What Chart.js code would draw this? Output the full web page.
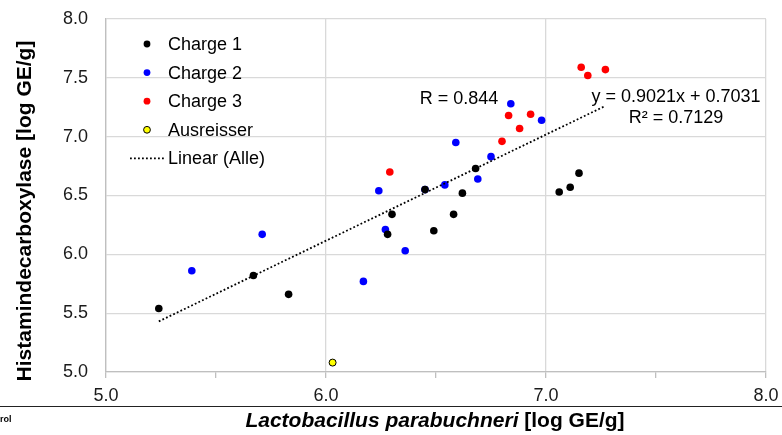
<!DOCTYPE html>
<html>
<head>
<meta charset="utf-8">
<script src="https://cdn.jsdelivr.net/npm/chart.js@4.4.1/dist/chart.umd.min.js"></script>
<style>
  html, body { margin: 0; padding: 0; background: #fff; }
  canvas { display: block; }
</style>
</head>
<body>
<canvas id="scatterChart" width="782" height="435"></canvas>
<script>
// Charge 1
const charge1X = [5.24, 5.67, 5.83, 6.28, 6.30, 6.45, 6.49, 6.58, 6.62, 6.68, 7.06, 7.11, 7.15];
const charge1Y = [5.54, 5.82, 5.66, 6.17, 6.34, 6.55, 6.20, 6.34, 6.52, 6.73, 6.53, 6.57, 6.69];
// Charge 2
const charge2X = [5.39, 5.71, 6.17, 6.24, 6.27, 6.36, 6.45, 6.54, 6.59, 6.69, 6.75, 6.84, 6.98];
const charge2Y = [5.86, 6.17, 5.77, 6.54, 6.21, 6.03, 6.55, 6.59, 6.95, 6.64, 6.83, 7.28, 7.14];
// Charge 3
const charge3X = [6.29, 6.80, 6.83, 6.88, 6.93, 7.16, 7.19, 7.27];
const charge3Y = [6.70, 6.96, 7.18, 7.07, 7.19, 7.59, 7.52, 7.57];
// Ausreisser
const outlierX = [6.03];
const outlierY = [5.08];

// Regression (Alle)
const slope = 0.9021;
const intercept = 0.7031;
const rValue = '0.844';
const r2Value = '0.7129';

const yTicks = [5.0, 5.5, 6.0, 6.5, 7.0, 7.5, 8.0];

const FONT = '"Liberation Sans", Arial, sans-serif';

const pts = (xs, ys) => xs.map((x, i) => ({ x: x, y: ys[i] }));

const allX = charge1X.concat(charge2X, charge3X);
const xMin = Math.min(...allX);
const xMax = Math.max(...allX);
const trend = [xMin, xMax].map(x => ({ x: x, y: slope * x + intercept }));

const decor = {
  id: 'decor',
  afterDraw(chart) {
    const ctx = chart.ctx;
    ctx.save();
    ctx.fillStyle = '#000';

    // legend
    const rows = chart.data.datasets;
    ctx.font = '18px ' + FONT;
    ctx.textBaseline = 'middle';
    ctx.textAlign = 'left';
    rows.forEach((ds, i) => {
      const y = 44 + i * 28.6;
      if (ds.type === 'line') {
        ctx.save();
        ctx.strokeStyle = ds.borderColor;
        ctx.lineWidth = ds.borderWidth;
        ctx.setLineDash(ds.borderDash);
        ctx.beginPath();
        ctx.moveTo(130, y);
        ctx.lineTo(164, y);
        ctx.stroke();
        ctx.restore();
      } else {
        ctx.beginPath();
        ctx.arc(147, y, 3.4, 0, Math.PI * 2);
        ctx.fillStyle = ds.backgroundColor;
        ctx.fill();
        if (ds.borderWidth) {
          ctx.lineWidth = ds.borderWidth;
          ctx.strokeStyle = ds.borderColor;
          ctx.stroke();
        }
      }
      ctx.fillStyle = '#000';
      ctx.fillText(ds.label, 168, y + 1);
    });

    // regression labels
    ctx.textAlign = 'center';
    ctx.fillText('R = ' + rValue, 459, 99);
    ctx.fillText('y = ' + slope + 'x + ' + intercept, 676, 97);
    ctx.fillText('R\u00b2 = ' + r2Value, 676, 118);

    // y axis title
    ctx.save();
    ctx.translate(31, 211);
    ctx.rotate(-Math.PI / 2);
    ctx.font = 'bold 21px ' + FONT;
    ctx.textBaseline = 'alphabetic';
    ctx.textAlign = 'center';
    ctx.fillText('Histamindecarboxylase [log GE/g]', 0, 0);
    ctx.restore();

    // x axis title: species name in italics
    const part1 = 'Lactobacillus parabuchneri';
    const part2 = ' [log GE/g]';
    ctx.textBaseline = 'alphabetic';
    ctx.textAlign = 'left';
    ctx.font = 'italic bold 21px ' + FONT;
    const w1 = ctx.measureText(part1).width;
    ctx.font = 'bold 21px ' + FONT;
    const w2 = ctx.measureText(part2).width;
    const x0 = 435 - (w1 + w2) / 2;
    ctx.font = 'italic bold 21px ' + FONT;
    ctx.fillText(part1, x0, 427);
    ctx.font = 'bold 21px ' + FONT;
    ctx.fillText(part2, x0 + w1, 427);

    // rule across the bottom and leftover label
    ctx.strokeStyle = '#222';
    ctx.lineWidth = 1.2;
    ctx.beginPath();
    ctx.moveTo(0, 406.5);
    ctx.lineTo(782, 406.5);
    ctx.stroke();
    ctx.font = 'bold 9px ' + FONT;
    ctx.fillText('rol', 0, 422);

    ctx.restore();
  }
};

new Chart(document.getElementById('scatterChart'), {
  type: 'scatter',
  data: {
    datasets: [
      { label: 'Charge 1', data: pts(charge1X, charge1Y), backgroundColor: '#000000', borderWidth: 0, pointRadius: 3.8 },
      { label: 'Charge 2', data: pts(charge2X, charge2Y), backgroundColor: '#0000ff', borderWidth: 0, pointRadius: 3.8 },
      { label: 'Charge 3', data: pts(charge3X, charge3Y), backgroundColor: '#ff0000', borderWidth: 0, pointRadius: 3.8 },
      { label: 'Ausreisser', data: pts(outlierX, outlierY), backgroundColor: '#ffff00', borderColor: '#000000', borderWidth: 1, pointRadius: 3.5 },
      {
        type: 'line', label: 'Linear (Alle)', data: trend,
        borderColor: '#000000', borderWidth: 1.8, borderDash: [1.8, 2.2],
        pointRadius: 0, fill: false, order: -1
      }
    ]
  },
  options: {
    responsive: false,
    animation: false,
    layout: { padding: { top: 19, right: 16, left: 0, bottom: 0 } },
    plugins: { legend: { display: false }, tooltip: { enabled: false } },
    scales: {
      x: {
        type: 'linear', min: 5, max: 8,
        afterFit(scale) {
          scale.height = 63;
          scale.paddingLeft = 0;
          scale.paddingRight = 0;
        },
        ticks: {
          stepSize: 0.5, autoSkip: false, maxRotation: 0, padding: 7,
          color: '#1a1a1a', font: { family: FONT, size: 18 },
          callback: v => Number.isInteger(v) ? v.toFixed(1) : ''
        },
        grid: {
          color: c => (c.tick && Number.isInteger(c.tick.value)) ? '#d9d9d9' : 'rgba(0,0,0,0)',
          tickColor: '#bfbfbf', tickLength: 6, lineWidth: 1.3
        },
        border: { color: '#bfbfbf', width: 1.3 }
      },
      y: {
        type: 'linear', min: 5, max: 8,
        afterFit(scale) {
          scale.width = 106;
          scale.paddingTop = 0;
          scale.paddingBottom = 0;
        },
        afterBuildTicks(scale) { scale.ticks = yTicks.map(v => ({ value: v })); },
        ticks: {
          padding: 18, color: '#1a1a1a', font: { family: FONT, size: 18 },
          callback: v => v.toFixed(1)
        },
        grid: { color: '#d9d9d9', drawTicks: false, lineWidth: 1.3 },
        border: { color: '#bfbfbf', width: 1.3 }
      }
    }
  },
  plugins: [decor]
});
</script>
</body>
</html>
